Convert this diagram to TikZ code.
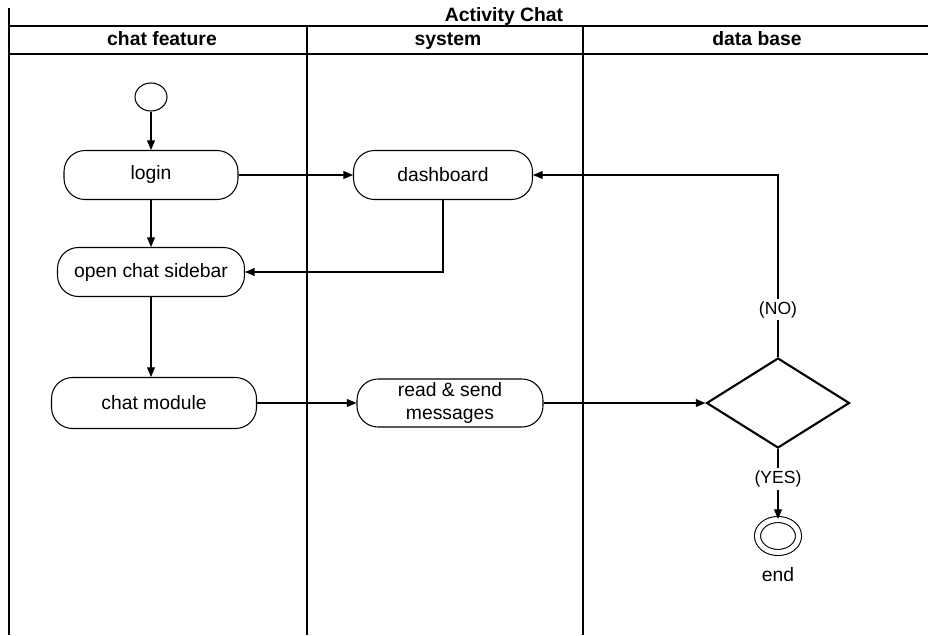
\documentclass[tikz,border=0pt]{standalone}
\usepackage{fontspec}
\setmainfont{Liberation Sans}
\usetikzlibrary{arrows.meta,shapes.geometric}

\tikzset{
  lane/.style={line width=0.9pt},
  head/.style={font=\bfseries\fontsize{11}{13}\selectfont, text height=1.6ex, text depth=0.4ex},
  act/.style={draw, rounded corners=0.42cm, align=center, inner sep=0pt,
    line width=0.6pt, font=\fontsize{11}{13}\selectfont},
  flow/.style={-{Triangle[length=5.5pt,width=4.5pt]}, line width=0.6pt},
  lbl/.style={fill=white, inner sep=1.5pt, font=\fontsize{10}{12}\selectfont},
}

\begin{document}
\begin{tikzpicture}[x=0.02cm, y=-0.02cm]
    \useasboundingbox (0,0) rectangle (928,635);

    % Raias
    \draw[lane] (9,8) -- (9,635);
    \draw[lane] (9,26) -- (928,26);
    \draw[lane] (9,54) -- (928,54);
    \foreach \x in {307,583}
        \draw[lane] (\x,26) -- (\x,635);

    % Titulos
    \node[head] (title) at (504,16) {Activity Chat};
    \foreach \x/\nome/\txt in {162/feature/chat feature, 448/system/system, 757/db/data base}
        \node[head] (\nome) at (\x,40) {\txt};

    % Atividades
    \node[draw, ellipse, line width=0.6pt, minimum width=0.64cm, minimum height=0.56cm, inner sep=0pt] (start) at (151,97) {};
    \node[act, minimum width=3.48cm, minimum height=0.98cm] (login) at (151,175) {login};
    \node[act, minimum width=3.58cm, minimum height=0.98cm] (dash) at (443,175) {dashboard};
    \node[act, minimum width=3.74cm, minimum height=0.98cm] (sidebar) at (151,272) {open chat sidebar};
    \node[act, minimum width=4.1cm, minimum height=1.02cm] (module) at (154,403) {chat module};
    \node[act, minimum width=3.72cm, minimum height=0.96cm] (msgs) at (450,403) {read \& send\\messages};
    \node[draw, diamond, line width=1.2pt, minimum width=2.86cm, minimum height=1.8cm, inner sep=0pt] (check) at (778,403) {};
    \node[draw, ellipse, double, double distance=0.1cm, line width=0.6pt, minimum width=0.82cm, minimum height=0.66cm, inner sep=0pt] (finish) at (778,536) {};
    \node[font=\fontsize{11}{13}\selectfont] (endlbl) at (778,575) {end};

    % Fluxo
    \draw[flow] (start) -- (login);
    \draw[flow] (login) -- (sidebar);
    \draw[flow] (sidebar) -- (sidebar |- module.north);
    \draw[flow] (login) -- (dash);
    \draw[flow] (dash.south) |- (sidebar.east);
    \draw[flow] (module) -- (msgs);
    \draw[flow] (msgs) -- (check);
    \draw[flow] (check.north) |- node[pos=0.13, lbl] {(NO)} (dash.east);
    \draw[flow] (check.south) -- node[pos=0.43, lbl] {(YES)} (finish);
\end{tikzpicture}
\end{document}
